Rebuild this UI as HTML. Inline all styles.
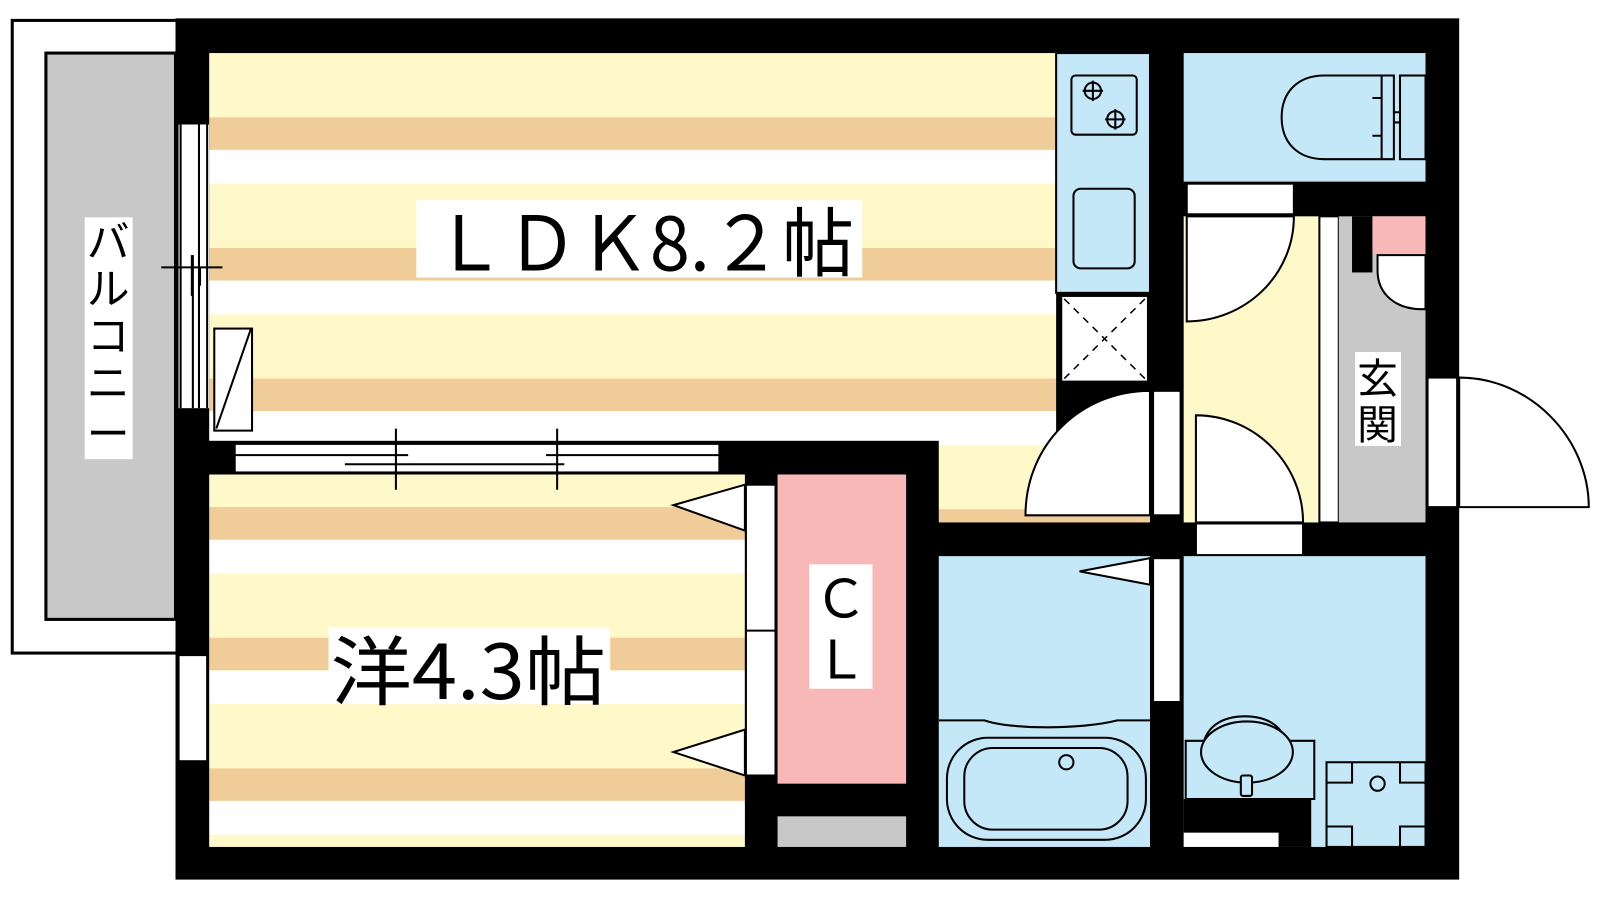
<!DOCTYPE html>
<html><head><meta charset="utf-8"><style>html,body{margin:0;padding:0;background:#fff;width:1600px;height:900px;overflow:hidden}svg{display:block}</style></head>
<body>
<svg width="1600" height="900" viewBox="0 0 1568 882" preserveAspectRatio="none" xmlns="http://www.w3.org/2000/svg">
<defs>
<pattern id="st" x="0" y="52" width="10" height="128" patternUnits="userSpaceOnUse">
<rect width="10" height="128" fill="#fff8c8"/><rect y="63" width="10" height="32" fill="#f0cc98"/><rect y="95" width="10" height="33" fill="#fff"/>
</pattern>
<pattern id="st2" x="0" y="434" width="10" height="128" patternUnits="userSpaceOnUse">
<rect width="10" height="128" fill="#fff8c8"/><rect y="63" width="10" height="32" fill="#f0cc98"/><rect y="95" width="10" height="33" fill="#fff"/>
</pattern>
</defs>
<g stroke="#000" stroke-width="3" fill="none">
<rect x="12" y="20" width="176" height="620" fill="#fff"/>
<rect x="45" y="52" width="127" height="555" fill="#c8c8c8"/>
</g>
<rect x="172" y="18" width="1258" height="844" fill="#000"/>
<rect x="205" y="52" width="830" height="380" fill="url(#st)"/>
<rect x="920" y="430" width="207" height="82" fill="url(#st)"/>
<rect x="205" y="465" width="525" height="365" fill="url(#st2)"/>
<rect x="762" y="465" width="126" height="303" fill="#f8b8b8"/>
<rect x="762" y="800" width="126" height="30" fill="#c8c8c8"/>
<rect x="1035" y="52" width="92" height="235" fill="#c4e8f8" stroke="#000" stroke-width="2"/>
<rect x="1050" y="74" width="64" height="58" rx="4" fill="none" stroke="#000" stroke-width="2"/>
<g stroke="#000" stroke-width="2" fill="none"><circle cx="1071" cy="89" r="8"/><circle cx="1093" cy="117" r="8"/><path d="M1061 89h20M1071 79v20M1083 117h20M1093 107v20"/></g>
<rect x="1052" y="185" width="60" height="78" rx="7" fill="none" stroke="#000" stroke-width="2"/>
<rect x="1040" y="290" width="85" height="84" fill="#fff" stroke="#000" stroke-width="2"/>
<path d="M1043 293L1122 371M1122 293L1043 371" stroke="#000" stroke-width="1.5" stroke-dasharray="7 6"/>
<rect x="1160" y="52" width="237" height="126" fill="#c4e8f8"/>
<g stroke="#000" stroke-width="2" fill="#c4e8f8"><path d="M1366 74H1298C1272 74 1256 90 1256 115C1256 140 1272 156 1298 156H1366Z"/><path d="M1354 74V156M1345 96H1354V133H1345"/><rect x="1372" y="74" width="25" height="82"/><path d="M1366 110H1372M1366 120H1372"/></g>
<rect x="1160" y="212" width="133" height="300" fill="#fff8c8"/>
<rect x="1293" y="212" width="19" height="300" fill="#fff" stroke="#000" stroke-width="2"/>
<rect x="1312" y="212" width="85" height="300" fill="#c8c8c8"/>
<rect x="1325" y="212" width="20" height="55" fill="#000"/>
<rect x="1345" y="212" width="52" height="37" fill="#f8b8b8"/>
<path d="M1350 250H1397V303H1393C1370 303 1350 290 1350 265Z" fill="#fff" stroke="#000" stroke-width="2"/>
<rect x="1328" y="345" width="45" height="92" fill="#fff"/>
<text x="1350" y="385" font-family="Liberation Sans,'Noto Sans CJK JP',sans-serif" font-size="40" text-anchor="middle">玄</text>
<text x="1350" y="430" font-family="Liberation Sans,'Noto Sans CJK JP',sans-serif" font-size="40" text-anchor="middle">関</text>
<rect x="1163" y="180" width="105" height="30" fill="#fff" stroke="#000" stroke-width="2"/>
<path d="M1163 212V315C1220 315 1268 270 1268 212Z" fill="#fff" stroke="#000" stroke-width="2"/>
<path d="M1172 512V407C1230 407 1277 455 1277 512Z" fill="#fff" stroke="#000" stroke-width="2"/>
<rect x="1172" y="513" width="105" height="31" fill="#fff" stroke="#000" stroke-width="2"/>
<rect x="1130" y="383" width="27" height="122" fill="#fff" stroke="#000" stroke-width="2"/>
<path d="M1127 383C1060 383 1005 435 1005 505H1127Z" fill="#fff" stroke="#000" stroke-width="2"/>
<rect x="1399" y="370" width="29" height="127" fill="#fff" stroke="#000" stroke-width="2"/>
<path d="M1430 370C1500 370 1557 430 1557 497H1430Z" fill="#fff" stroke="#000" stroke-width="2"/>
<rect x="920" y="545" width="207" height="285" fill="#c4e8f8"/>
<g stroke="#000" stroke-width="2" fill="none">
<path d="M920 706H965C990 715 1060 715 1095 706H1127"/>
<rect x="928" y="723" width="195" height="100" rx="40"/>
<rect x="945" y="733" width="160" height="80" rx="28"/>
<circle cx="1045" cy="747" r="7"/>
</g>
<rect x="1130" y="547" width="27" height="141" fill="#fff" stroke="#000" stroke-width="2"/>
<path d="M1127 547L1058 560L1127 573Z" fill="#fff" stroke="#000" stroke-width="2"/>
<rect x="1160" y="545" width="237" height="285" fill="#c4e8f8"/>
<rect x="1160" y="783" width="125" height="47" fill="#000"/>
<rect x="1160" y="816" width="93" height="14" fill="#fff"/>
<g stroke="#000" stroke-width="2" fill="#c4e8f8">
<path d="M1162 783V726H1180C1185 710 1200 702 1220 702C1240 702 1255 710 1260 726H1288V783Z"/>
<ellipse cx="1222" cy="737" rx="45" ry="30"/>
<rect x="1216" y="760" width="11" height="20" rx="2"/>
<rect x="1300" y="747" width="97" height="83"/>
<path d="M1325 747V767H1300M1372 747V767H1397M1325 830V810H1300M1372 830V810H1397"/>
<circle cx="1350" cy="768" r="7"/>
</g>
<rect x="175" y="122" width="30" height="278" fill="#fff"/>
<path d="M177 122V400M195 122V400M203 122V400M189 250V400" stroke="#000" stroke-width="2"/>
<path d="M158 262H218M188 250V290M196 262V280" stroke="#000" stroke-width="2"/>
<rect x="175" y="642" width="28" height="104" fill="#fff" stroke="#000" stroke-width="2"/>
<rect x="210" y="322" width="37" height="100" fill="#fff" stroke="#000" stroke-width="2"/>
<path d="M212 420L246 322" stroke="#000" stroke-width="2"/>
<rect x="230" y="435" width="475" height="28" fill="#fff" stroke="#000" stroke-width="2"/>
<path d="M230 446H400M535 446H705M338 455H553M388 420V480M546 420V480" stroke="#000" stroke-width="2"/>
<rect x="205" y="433" width="25" height="32" fill="#000"/>
<rect x="731" y="475" width="29" height="285" fill="#fff" stroke="#000" stroke-width="2"/>
<path d="M731 618H760" stroke="#000" stroke-width="2"/>
<path d="M730 475L660 495L730 520Z M730 715L660 737L730 760Z" fill="#fff" stroke="#000" stroke-width="2"/>
<rect x="83" y="213" width="47" height="237" fill="#fff"/>
<g font-family="Liberation Sans,'Noto Sans CJK JP',sans-serif" font-size="42" text-anchor="middle">
<text x="106" y="252">バ</text><text x="106" y="298">ル</text><text x="106" y="344">コ</text><text x="106" y="390">ニ</text><text x="106" y="440">ー</text>
</g>
<rect x="408" y="196" width="437" height="76" fill="#fff"/>
<text x="425" y="265" font-family="'Liberation Sans Narrow','Noto Sans CJK JP',sans-serif" font-size="74" textLength="412" lengthAdjust="spacingAndGlyphs">ＬＤＫ8.２帖</text>
<rect x="322" y="615" width="276" height="75" fill="#fff"/>
<text x="324" y="685" font-family="'Liberation Sans Narrow','Noto Sans CJK JP',sans-serif" font-size="74" textLength="270" lengthAdjust="spacingAndGlyphs">洋4.3帖</text>
<rect x="793" y="553" width="62" height="122" fill="#fff"/>
<text x="824" y="605" font-family="Liberation Sans,'Noto Sans CJK JP',sans-serif" font-size="52" text-anchor="middle">Ｃ</text>
<text x="824" y="665" font-family="Liberation Sans,'Noto Sans CJK JP',sans-serif" font-size="52" text-anchor="middle">Ｌ</text>
</svg>
</body></html>
